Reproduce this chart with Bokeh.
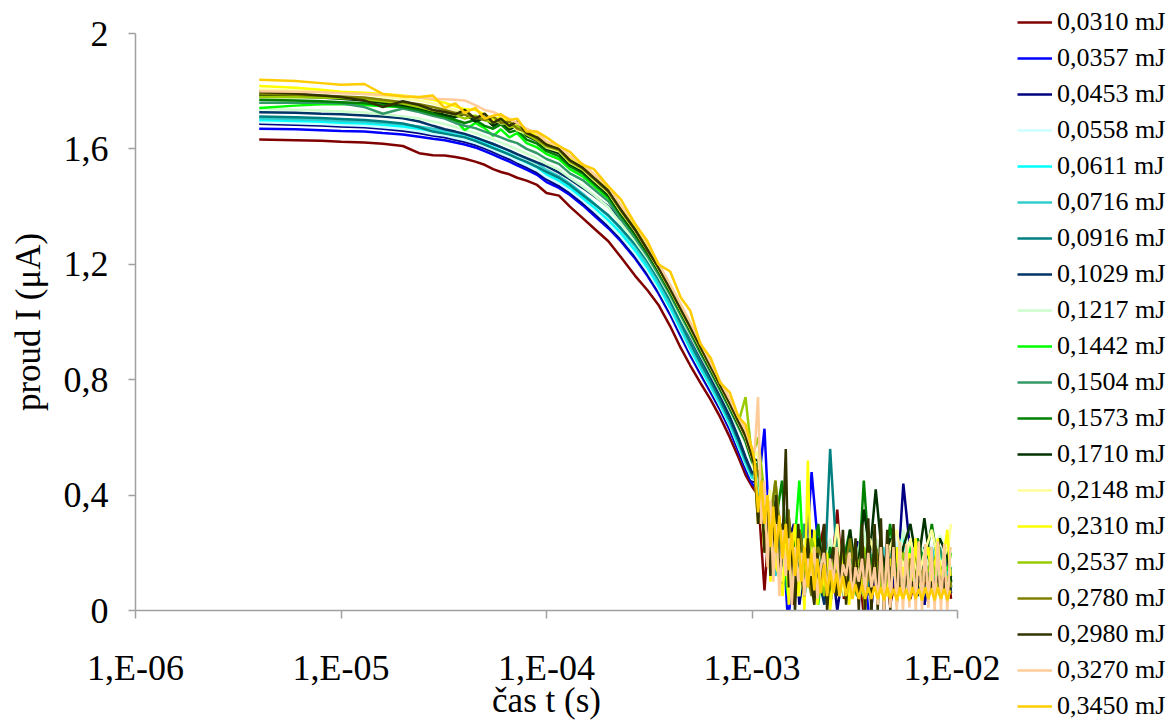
from bokeh.plotting import figure
from bokeh.layouts import row
from bokeh.models import (Legend, LegendItem, FixedTicker, CustomJSTickFormatter,
                          Range1d)
from bokeh.embed import file_html
from bokeh.resources import INLINE

# ---------------- data ----------------
t_smooth = [4e-6, 6e-6, 8e-6, 1e-5, 1.3e-5, 1.6e-5, 2e-5, 2.4e-5, 2.8e-5, 3.2e-5,
            3.6e-5, 4e-5, 4.5e-5, 5e-5, 5.5e-5, 6e-5, 6.6e-5, 7.2e-5, 8e-5, 9e-5,
            1e-4, 1.15e-4, 1.3e-4, 1.5e-4, 1.7e-4, 2e-4, 2.3e-4, 2.7e-4, 3.1e-4, 3.5e-4,
            4e-4, 4.5e-4, 5e-4, 5.6e-4, 6.3e-4, 7e-4, 7.8e-4, 8.6e-4, 9.3e-4, 1e-3]
# sparse sampling of the noisy tail (most series)
t_noise = [1.07e-3, 1.15e-3, 1.22e-3, 1.3e-3, 1.4e-3, 1.5e-3, 1.6e-3, 1.7e-3, 1.8e-3, 1.95e-3,
           2.1e-3, 2.25e-3, 2.4e-3, 2.6e-3, 2.8e-3, 3.0e-3, 3.25e-3, 3.5e-3, 3.75e-3, 4.0e-3,
           4.35e-3, 4.7e-3, 5.05e-3, 5.45e-3, 5.9e-3, 6.4e-3, 6.9e-3, 7.5e-3, 8.2e-3, 9.0e-3,
           9.3e-3]
# denser sampling of the noisy tail (the series drawn on top)
t_dense = [1.03e-3, 1.07e-3, 1.11e-3, 1.15e-3, 1.19e-3, 1.23e-3, 1.27e-3, 1.31e-3, 1.36e-3, 1.41e-3,
           1.46e-3, 1.51e-3, 1.56e-3, 1.62e-3, 1.68e-3, 1.74e-3, 1.80e-3, 1.87e-3, 1.94e-3, 2.01e-3,
           2.08e-3, 2.16e-3, 2.24e-3, 2.32e-3, 2.40e-3, 2.49e-3, 2.58e-3, 2.67e-3, 2.77e-3, 2.87e-3,
           2.97e-3, 3.08e-3, 3.19e-3, 3.31e-3, 3.43e-3, 3.55e-3, 3.68e-3, 3.81e-3, 3.95e-3, 4.09e-3,
           4.24e-3, 4.39e-3, 4.55e-3, 4.71e-3, 4.88e-3, 5.06e-3, 5.24e-3, 5.43e-3, 5.63e-3, 5.83e-3,
           6.04e-3, 6.26e-3, 6.48e-3, 6.72e-3, 6.96e-3, 7.21e-3, 7.47e-3, 7.74e-3, 8.02e-3, 8.31e-3,
           8.61e-3, 8.92e-3, 9.24e-3]
time_s = t_smooth + t_noise
time_d = t_smooth + t_dense

energies = ["0,0310 mJ", "0,0357 mJ", "0,0453 mJ", "0,0558 mJ", "0,0611 mJ",
            "0,0716 mJ", "0,0916 mJ", "0,1029 mJ", "0,1217 mJ", "0,1442 mJ",
            "0,1504 mJ", "0,1573 mJ", "0,1710 mJ", "0,2148 mJ", "0,2310 mJ",
            "0,2537 mJ", "0,2780 mJ", "0,2980 mJ", "0,3270 mJ", "0,3450 mJ"]

colors = ["#800000", "#0000FF", "#000080", "#CCFFFF", "#00FFFF",
          "#33CCCC", "#008080", "#003366", "#CCFFCC", "#00FF00",
          "#339966", "#008000", "#003300", "#FFFF99", "#FFFF00",
          "#99CC00", "#808000", "#333300", "#FFCC99", "#FFCC00"]

i_0310 = [1.633, 1.630, 1.628, 1.625, 1.622, 1.618, 1.610, 1.585, 1.578, 1.577,
          1.572, 1.566, 1.556, 1.545, 1.530, 1.520, 1.512, 1.500, 1.490, 1.475,
          1.447, 1.438, 1.400, 1.360, 1.325, 1.280, 1.225, 1.160, 1.110, 1.060,
          0.985, 0.910, 0.850, 0.790, 0.730, 0.670, 0.600, 0.530, 0.470, 0.430,
          0.40, 0.07, 0.33, 0.25, 0.10, 0.22, 0.02, 0.18, 0.24, 0.06,
          0.20, 0.30, 0.08, 0.35, 0.04, 0.14, 0.22, -0.02, 0.16, 0.08,
          0.20, 0.02, 0.12, 0.18, 0.04, 0.16, 0.08, 0.20, 0.06, 0.14, 0.04]
i_0357 = [1.670, 1.668, 1.665, 1.662, 1.660, 1.655, 1.650, 1.642, 1.635, 1.630,
          1.622, 1.615, 1.605, 1.592, 1.580, 1.568, 1.556, 1.543, 1.528, 1.510,
          1.485, 1.465, 1.440, 1.405, 1.370, 1.325, 1.280, 1.220, 1.160, 1.100,
          1.025, 0.950, 0.885, 0.820, 0.755, 0.695, 0.625, 0.550, 0.490, 0.440,
          0.42, 0.63, 0.25, 0.18, 0.30, -0.05, 0.20, 0.12, 0.10, 0.48,
          0.22, 0.10, 0.02, 0.18, 0.12, 0.25, 0.06, 0.15, -0.05, 0.18,
          0.10, 0.20, 0.05, 0.14, 0.08, 0.18, 0.02, 0.15, 0.10, 0.06, 0.12]
i_0453 = [1.687, 1.684, 1.681, 1.678, 1.675, 1.670, 1.663, 1.655, 1.646, 1.640,
          1.632, 1.625, 1.614, 1.602, 1.590, 1.578, 1.565, 1.552, 1.537, 1.518,
          1.495, 1.472, 1.448, 1.412, 1.378, 1.332, 1.288, 1.228, 1.168, 1.108,
          1.032, 0.958, 0.892, 0.828, 0.762, 0.700, 0.632, 0.558, 0.498, 0.450,
          0.44, 0.30, 0.20, 0.35, 0.08, 0.24, 0.30, 0.02, 0.15, 0.28,
          0.05, 0.18, 0.22, 0.00, 0.16, 0.10, 0.24, 0.05, 0.12, 0.20,
          0.08, 0.15, 0.06, 0.44, 0.20, 0.10, 0.02, 0.18, 0.12, 0.22, 0.08]
i_0558 = [1.692, 1.689, 1.686, 1.683, 1.680, 1.675, 1.669, 1.661, 1.652, 1.646,
          1.638, 1.631, 1.620, 1.608, 1.596, 1.584, 1.572, 1.558, 1.543, 1.525,
          1.502, 1.480, 1.455, 1.420, 1.386, 1.340, 1.296, 1.236, 1.176, 1.116,
          1.040, 0.966, 0.900, 0.836, 0.770, 0.708, 0.640, 0.566, 0.505, 0.455,
          0.45, 0.35, 0.22, 0.15, 0.28, 0.18, 0.10, 0.25, 0.12, 0.20,
          0.08, 0.22, 0.14, 0.25, 0.10, 0.18, 0.06, 0.20, 0.12, 0.22,
          0.15, 0.08, 0.24, 0.12, 0.20, 0.10, 0.22, 0.14, 0.18, 0.10, 0.16]
i_0611 = [1.700, 1.697, 1.694, 1.691, 1.688, 1.684, 1.678, 1.670, 1.662, 1.656,
          1.648, 1.641, 1.630, 1.618, 1.606, 1.594, 1.582, 1.568, 1.553, 1.536,
          1.512, 1.490, 1.465, 1.430, 1.398, 1.352, 1.308, 1.248, 1.188, 1.126,
          1.050, 0.975, 0.908, 0.842, 0.776, 0.714, 0.646, 0.572, 0.512, 0.460,
          0.46, 0.32, 0.25, 0.20, 0.10, 0.28, 0.15, 0.05, 0.22, 0.12,
          0.25, 0.08, 0.18, 0.10, 0.22, 0.05, 0.15, 0.20, 0.08, 0.18,
          0.12, 0.24, 0.20, 0.26, 0.10, 0.22, 0.18, 0.08, 0.20, 0.12, 0.15]
i_0716 = [1.706, 1.703, 1.700, 1.697, 1.694, 1.690, 1.685, 1.678, 1.670, 1.664,
          1.657, 1.650, 1.640, 1.628, 1.617, 1.605, 1.593, 1.580, 1.566, 1.550,
          1.527, 1.505, 1.480, 1.445, 1.412, 1.366, 1.322, 1.262, 1.200, 1.138,
          1.062, 0.986, 0.918, 0.852, 0.785, 0.722, 0.654, 0.580, 0.518, 0.466,
          0.44, 0.28, 0.35, 0.12, 0.22, 0.08, 0.25, 0.18, 0.05, 0.20,
          0.15, 0.10, 0.22, 0.06, 0.18, 0.25, 0.10, 0.05, 0.20, 0.12,
          0.22, 0.08, 0.18, 0.14, 0.24, 0.06, 0.16, 0.22, 0.10, 0.18, 0.08]
i_0916 = [1.712, 1.710, 1.707, 1.704, 1.700, 1.695, 1.688, 1.675, 1.660, 1.653,
          1.646, 1.640, 1.628, 1.615, 1.603, 1.592, 1.580, 1.568, 1.555, 1.538,
          1.520, 1.500, 1.475, 1.440, 1.410, 1.370, 1.325, 1.270, 1.212, 1.150,
          1.075, 0.998, 0.930, 0.862, 0.795, 0.730, 0.660, 0.588, 0.525, 0.472,
          0.47, 0.36, 0.20, 0.28, 0.15, 0.05, 0.22, 0.12, 0.30, 0.08,
          0.18, 0.10, 0.56, 0.15, 0.05, 0.22, 0.12, 0.18, 0.08, 0.25,
          0.10, 0.15, 0.20, 0.05, 0.18, 0.12, 0.22, 0.08, 0.15, 0.20, 0.10]
i_1029 = [1.727, 1.725, 1.722, 1.720, 1.716, 1.712, 1.706, 1.695, 1.680, 1.668,
          1.660, 1.652, 1.640, 1.628, 1.617, 1.606, 1.594, 1.582, 1.568, 1.553,
          1.540, 1.518, 1.495, 1.465, 1.438, 1.400, 1.356, 1.300, 1.240, 1.178,
          1.100, 1.020, 0.950, 0.880, 0.810, 0.745, 0.672, 0.598, 0.532, 0.478,
          0.48, 0.32, 0.25, 0.15, 0.30, 0.10, 0.20, 0.05, 0.18, 0.25,
          0.12, 0.02, 0.20, 0.10, 0.18, 0.06, 0.22, 0.12, 0.05, 0.18,
          0.10, 0.20, 0.08, 0.15, 0.12, 0.05, 0.20, 0.15, 0.10, 0.18, 0.06]
i_1217 = [1.738, 1.736, 1.733, 1.730, 1.726, 1.720, 1.713, 1.705, 1.695, 1.686,
          1.676, 1.666, 1.655, 1.644, 1.633, 1.622, 1.610, 1.598, 1.584, 1.568,
          1.548, 1.528, 1.500, 1.470, 1.440, 1.398, 1.340, 1.280, 1.220, 1.160,
          1.088, 1.015, 0.955, 0.888, 0.820, 0.758, 0.692, 0.630, 0.580, 0.510,
          0.46, 0.30, 0.38, 0.20, 0.12, 0.25, 0.08, 0.22, 0.15, 0.05,
          0.20, 0.12, 0.25, 0.10, 0.18, 0.05, 0.20, 0.28, 0.12, 0.25,
          0.15, 0.22, 0.10, 0.28, 0.15, 0.24, 0.20, 0.12, 0.26, 0.18, 0.22]
i_1442 = [1.742, 1.750, 1.755, 1.756, 1.752, 1.748, 1.745, 1.735, 1.722, 1.712,
          1.700, 1.665, 1.690, 1.672, 1.645, 1.668, 1.640, 1.655, 1.620, 1.605,
          1.582, 1.565, 1.530, 1.505, 1.472, 1.428, 1.364, 1.298, 1.234, 1.172,
          1.098, 1.028, 0.966, 0.896, 0.828, 0.766, 0.700, 0.638, 0.587, 0.518,
          0.50, 0.25, 0.35, 0.15, 0.28, 0.05, 0.20, 0.45, 0.10, 0.18,
          0.02, 0.22, 0.12, 0.08, 0.20, 0.15, 0.05, 0.22, 0.12, 0.18,
          0.10, 0.25, 0.15, 0.08, 0.22, 0.12, 0.20, 0.18, 0.10, 0.15, 0.20]
i_1504 = [1.760, 1.760, 1.760, 1.758, 1.745, 1.722, 1.740, 1.728, 1.715, 1.705,
          1.690, 1.680, 1.672, 1.660, 1.650, 1.640, 1.628, 1.620, 1.600, 1.585,
          1.565, 1.548, 1.515, 1.492, 1.460, 1.418, 1.356, 1.290, 1.228, 1.166,
          1.094, 1.024, 0.962, 0.894, 0.826, 0.764, 0.698, 0.636, 0.585, 0.515,
          0.48, 0.32, 0.22, 0.38, 0.10, 0.25, 0.18, 0.08, 0.30, 0.12,
          0.05, 0.20, 0.15, 0.25, 0.08, 0.18, 0.12, 0.05, 0.20, 0.15,
          0.10, 0.22, 0.08, 0.18, 0.12, 0.20, 0.06, 0.15, 0.22, 0.10, 0.15]
i_1573 = [1.770, 1.768, 1.765, 1.762, 1.758, 1.752, 1.745, 1.735, 1.722, 1.712,
          1.700, 1.690, 1.700, 1.680, 1.670, 1.685, 1.658, 1.665, 1.632, 1.618,
          1.592, 1.575, 1.540, 1.515, 1.480, 1.435, 1.370, 1.302, 1.238, 1.176,
          1.102, 1.032, 0.970, 0.900, 0.832, 0.770, 0.704, 0.642, 0.590, 0.520,
          0.50, 0.38, 0.20, 0.30, 0.45, 0.12, 0.25, 0.05, 0.20, 0.15,
          0.30, 0.08, 0.22, 0.12, 0.18, 0.28, 0.05, 0.45, 0.15, 0.22,
          0.10, 0.30, 0.12, 0.20, 0.08, 0.25, 0.15, 0.30, 0.12, 0.20, 0.10]
i_1710 = [1.785, 1.782, 1.778, 1.774, 1.768, 1.760, 1.752, 1.742, 1.730, 1.718,
          1.710, 1.722, 1.695, 1.708, 1.680, 1.695, 1.668, 1.680, 1.645, 1.628,
          1.600, 1.585, 1.548, 1.522, 1.488, 1.442, 1.378, 1.310, 1.244, 1.182,
          1.108, 1.038, 0.975, 0.906, 0.836, 0.774, 0.708, 0.646, 0.594, 0.525,
          0.52, 0.30, 0.40, 0.22, 0.15, 0.35, 0.10, 0.28, 0.18, 0.08,
          0.25, 0.15, 0.05, 0.20, 0.12, 0.28, 0.10, 0.35, 0.20, 0.42,
          0.15, 0.25, 0.10, 0.22, 0.30, 0.15, 0.32, 0.12, 0.25, 0.18, 0.10]
i_2148 = [1.805, 1.802, 1.798, 1.795, 1.790, 1.782, 1.775, 1.768, 1.758, 1.745,
          1.735, 1.722, 1.715, 1.700, 1.705, 1.688, 1.690, 1.665, 1.652, 1.632,
          1.605, 1.592, 1.552, 1.528, 1.492, 1.448, 1.382, 1.315, 1.248, 1.185,
          1.110, 1.040, 0.978, 0.910, 0.840, 0.778, 0.712, 0.650, 0.598, 0.528,
          0.55, 0.20, 0.42, 0.28, 0.10, 0.30, 0.18, 0.05, 0.25, 0.15,
          0.08, 0.22, 0.12, 0.30, 0.05, 0.20, 0.15, 0.10, 0.25, 0.18,
          0.08, 0.22, 0.28, 0.15, 0.25, 0.10, 0.20, 0.28, 0.15, 0.22, 0.30]
# series below with 103 values use the dense tail (time_d)
i_2310 = [1.818, 1.812, 1.805, 1.798, 1.795, 1.790, 1.785, 1.778, 1.770, 1.760,
          1.748, 1.738, 1.735, 1.720, 1.700, 1.712, 1.690, 1.688, 1.655, 1.650,
          1.620, 1.610, 1.570, 1.545, 1.510, 1.465, 1.400, 1.330, 1.260, 1.200,
          1.125, 1.055, 0.995, 0.925, 0.850, 0.790, 0.725, 0.665, 0.615, 0.545,
          0.48, 0.30, 0.40, 0.20, 0.35, 0.10, 0.30, 0.15, 0.12, 0.05,
          0.25, 0.02, 0.20, 0.30, 0.05, 0.18, 0.00, 0.52, 0.10, 0.28,
          0.02, 0.15, 0.08, 0.20, 0.00, 0.12, 0.18, 0.05, 0.22, 0.10,
          0.02, 0.15, 0.20, 0.05, 0.12, 0.00, 0.18, 0.08, 0.15, 0.02,
          0.20, 0.10, 0.05, 0.18, 0.12, 0.22, 0.05, 0.15, 0.10, 0.20,
          0.08, 0.25, 0.12, 0.05, 0.18, 0.22, 0.10, 0.15, 0.25, 0.08,
          0.20, 0.28, 0.12]
i_2537 = [1.780, 1.779, 1.778, 1.776, 1.772, 1.765, 1.757, 1.745, 1.733, 1.728,
          1.718, 1.705, 1.715, 1.700, 1.690, 1.702, 1.675, 1.680, 1.650, 1.630,
          1.608, 1.595, 1.555, 1.530, 1.495, 1.450, 1.385, 1.318, 1.250, 1.188,
          1.112, 1.042, 0.980, 0.912, 0.842, 0.780, 0.715, 0.652, 0.740, 0.530,
          0.60, 0.40, 0.28, 0.45, 0.20, 0.30, 0.12, 0.22, 0.08, 0.25,
          0.15, 0.05, 0.18, 0.12, 0.20, 0.08, 0.15, 0.22, 0.10, 0.18,
          0.05, 0.15, 0.12, 0.20, 0.08, 0.15, 0.10, 0.18, 0.05, 0.12, 0.08]
i_2780 = [1.790, 1.788, 1.785, 1.782, 1.778, 1.770, 1.762, 1.755, 1.745, 1.735,
          1.725, 1.718, 1.710, 1.700, 1.712, 1.690, 1.695, 1.670, 1.660, 1.635,
          1.612, 1.598, 1.560, 1.532, 1.498, 1.452, 1.388, 1.320, 1.252, 1.190,
          1.115, 1.045, 0.982, 0.915, 0.845, 0.782, 0.718, 0.655, 0.603, 0.533,
          0.48, 0.40, 0.30, 0.45, 0.20, 0.35, 0.12, 0.28, 0.18, 0.05,
          0.22, 0.15, 0.08, 0.20, 0.12, 0.25, 0.05, 0.18, 0.10, 0.22,
          0.08, 0.15, 0.12, 0.05, 0.18, 0.10, 0.15, 0.08, 0.12, 0.05, 0.10]
i_2980 = [1.797, 1.792, 1.785, 1.780, 1.768, 1.745, 1.765, 1.752, 1.735, 1.728,
          1.720, 1.735, 1.705, 1.722, 1.690, 1.705, 1.680, 1.695, 1.655, 1.640,
          1.615, 1.600, 1.560, 1.535, 1.500, 1.455, 1.390, 1.320, 1.250, 1.190,
          1.115, 1.045, 0.985, 0.915, 0.845, 0.782, 0.718, 0.655, 0.605, 0.535,
          0.50, 0.30, 0.42, 0.20, 0.35, 0.12, 0.28, 0.40, 0.10, 0.25,
          0.56, 0.08, 0.22, 0.00, 0.30, 0.12, 0.05, 0.25, 0.10, 0.02,
          0.20, 0.08, 0.30, 0.00, 0.15, 0.22, 0.05, 0.12, 0.28, 0.02,
          0.18, 0.10, 0.25, 0.00, 0.30, -0.02, 0.32, -0.02, 0.30, 0.00,
          0.32, -0.02, 0.28, 0.00, 0.30, 0.02, 0.15, 0.05, 0.12, 0.08,
          0.10, 0.05, 0.12, 0.08, 0.15, 0.05, 0.10, 0.08, 0.12, 0.05,
          0.10, 0.06, 0.08]
i_3270 = [1.800, 1.798, 1.796, 1.793, 1.790, 1.787, 1.783, 1.778, 1.774, 1.772,
          1.770, 1.768, 1.752, 1.735, 1.728, 1.715, 1.705, 1.690, 1.670, 1.655,
          1.625, 1.610, 1.575, 1.548, 1.512, 1.470, 1.405, 1.340, 1.270, 1.205,
          1.130, 1.062, 1.000, 0.930, 0.858, 0.795, 0.732, 0.670, 0.625, 0.560,
          0.55, 0.74, 0.30, 0.45, 0.15, 0.38, 0.10, 0.30, 0.05, 0.28,
          0.12, 0.25, 0.02, 0.22, 0.10, 0.20, 0.05, 0.18, 0.12, 0.22,
          0.04, 0.15, 0.20, 0.06, 0.18, 0.10, 0.22, 0.05, 0.16, 0.12,
          0.20, 0.04, 0.15, 0.10, 0.18, 0.06, 0.20, 0.08, 0.15, 0.02,
          0.22, 0.00, 0.23, 0.01, 0.22, 0.00, 0.24, 0.00, 0.23, 0.01,
          0.22, 0.00, 0.24, 0.00, 0.23, 0.01, 0.22, 0.00, 0.24, 0.00,
          0.23, 0.00, 0.22]
i_3450 = [1.840, 1.835, 1.828, 1.822, 1.825, 1.790, 1.782, 1.780, 1.785, 1.742,
          1.758, 1.725, 1.742, 1.705, 1.715, 1.720, 1.700, 1.705, 1.660, 1.660,
          1.640, 1.610, 1.590, 1.545, 1.530, 1.470, 1.425, 1.340, 1.280, 1.200,
          1.175, 1.085, 1.040, 0.925, 0.875, 0.790, 0.755, 0.670, 0.645, 0.560,
          0.52, 0.34, 0.45, 0.30, 0.40, 0.22, 0.36, 0.20, 0.33, 0.18,
          0.30, 0.14, 0.27, 0.12, 0.25, 0.10, 0.22, 0.08, 0.20, 0.07,
          0.18, 0.06, 0.16, 0.05, 0.14, 0.06, 0.13, 0.05, 0.12, 0.05,
          0.10, 0.04, 0.09, 0.04, 0.09, 0.04, 0.08, 0.04, 0.085, 0.04,
          0.08, 0.035, 0.08, 0.04, 0.075, 0.035, 0.08, 0.04, 0.075, 0.035,
          0.08, 0.04, 0.075, 0.035, 0.08, 0.04, 0.075, 0.035, 0.08, 0.04,
          0.075, 0.035, 0.07]

currents = [i_0310, i_0357, i_0453, i_0558, i_0611, i_0716, i_0916, i_1029, i_1217, i_1442,
            i_1504, i_1573, i_1710, i_2148, i_2310, i_2537, i_2780, i_2980, i_3270, i_3450]

x_ticks = [1e-6, 1e-5, 1e-4, 1e-3, 1e-2]
x_tick_labels = ["1,E-06", "1,E-05", "1,E-04", "1,E-03", "1,E-02"]
y_ticks = [0, 0.4, 0.8, 1.2, 1.6, 2.0]
y_tick_labels = ["0", "0,4", "0,8", "1,2", "1,6", "2"]

# ---------------- main figure ----------------
FONT = "Liberation Serif"
AXIS_GREY = "#a0a0a0"

p = figure(width=1000, height=722, x_axis_type="log",
           x_range=Range1d(1e-6, 1e-2), y_range=Range1d(0, 2),
           output_backend="svg", toolbar_location=None,
           min_border_left=135, min_border_right=43,
           min_border_top=33, min_border_bottom=112,
           x_axis_label="čas t (s)", y_axis_label="proud I (μA)")
p.background_fill_color = "white"
p.border_fill_color = "white"
p.outline_line_color = None
p.xgrid.visible = False
p.ygrid.visible = False
p.frame_align = False

for vals, col in zip(currents, colors):
    xs = time_s if len(vals) == len(time_s) else time_d
    p.line(xs, vals, line_color=col, line_width=2.5)

p.xaxis.ticker = FixedTicker(ticks=x_ticks)
p.xaxis.formatter = CustomJSTickFormatter(args=dict(tvals=x_ticks, tlabels=x_tick_labels), code="""
let best = 0, bd = Infinity;
for (let i = 0; i < tvals.length; i++) {
  const d = Math.abs(Math.log10(tvals[i]) - Math.log10(tick));
  if (d < bd) { bd = d; best = i; }
}
return tlabels[best];
""")
p.yaxis.ticker = FixedTicker(ticks=y_ticks)
p.yaxis.formatter = CustomJSTickFormatter(args=dict(tvals=y_ticks, tlabels=y_tick_labels), code="""
let best = 0, bd = Infinity;
for (let i = 0; i < tvals.length; i++) {
  const d = Math.abs(tvals[i] - tick);
  if (d < bd) { bd = d; best = i; }
}
return tlabels[best];
""")

for ax in (p.xaxis[0], p.yaxis[0]):
    ax.axis_line_color = AXIS_GREY
    ax.axis_line_width = 1.5
    ax.major_tick_line_color = AXIS_GREY
    ax.major_tick_line_width = 1.5
    ax.minor_tick_line_color = None
    ax.major_tick_in = 0
    ax.major_label_text_font = FONT
    ax.major_label_text_font_size = "36px"
    ax.major_label_text_color = "black"
    ax.axis_label_text_font = FONT
    ax.axis_label_text_font_size = "35px"
    ax.axis_label_text_font_style = "normal"
    ax.axis_label_text_color = "black"

p.xaxis.major_tick_out = 8
p.xaxis.major_label_standoff = 29
p.xaxis.axis_label_standoff = -10
p.yaxis.major_tick_out = 7
p.yaxis.major_label_standoff = 20
p.yaxis.axis_label_standoff = 13

# ---------------- legend panel (separate canvas to the right) ----------------
lf = figure(width=168, height=722, x_range=Range1d(0, 1), y_range=Range1d(0, 1),
            output_backend="svg", toolbar_location=None,
            x_axis_location=None, y_axis_location=None,
            min_border_left=0, min_border_right=0, min_border_top=0, min_border_bottom=0)
lf.outline_line_color = None
lf.background_fill_color = "white"
lf.border_fill_color = "white"
lf.xgrid.visible = False
lf.ygrid.visible = False
lf.frame_align = False

nan = float("nan")
items = []
for lab, col in zip(energies, colors):
    r = lf.line([nan], [nan], line_color=col, line_width=2.5)
    items.append(LegendItem(label=lab, renderers=[r]))

legend = Legend(items=items, location=(17, -2), orientation="vertical",
                border_line_color=None, background_fill_alpha=0,
                padding=0, margin=0, spacing=0,
                glyph_width=35, glyph_height=36, label_height=36,
                label_standoff=5, label_text_font=FONT,
                label_text_font_size="26px", label_text_color="black")
lf.add_layout(legend)

layout = row(p, lf, spacing=0)
open("out.html", "w").write(file_html(layout, INLINE))
